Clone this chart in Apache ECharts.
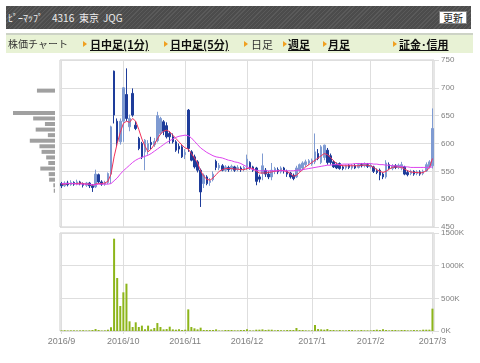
<!DOCTYPE html>
<html><head><meta charset="utf-8">
<script src="https://cdn.jsdelivr.net/npm/echarts@6/dist/echarts.min.js"></script>
<style>
html,body{margin:0;padding:0;background:#fff;width:480px;height:363px;overflow:hidden;font-family:"Noto Sans CJK JP",sans-serif;}
#chart{position:absolute;left:0;top:0;width:480px;height:363px;}
#hdr{position:absolute;left:6px;top:6px;width:465px;height:23px;background:repeating-linear-gradient(135deg,#5a5a5a 0,#5a5a5a 1px,#4c4c4c 1px,#4c4c4c 3px);color:#eee;font-size:10px;line-height:23px;}
#hdr span{position:absolute;top:0;white-space:nowrap;}
#btn{position:absolute;left:433px;top:5px;width:26px;height:11px;background:#fff;border:1px solid #888;color:#222;font-size:10px;line-height:11px;text-align:center;}
#tabs{position:absolute;left:6px;top:33px;width:467px;height:18px;background:#e8f2d5;border-top:2px solid #cdd3c6;}
.it{position:absolute;top:0;line-height:18px;font-size:11px;color:#333;white-space:nowrap;}
.b{font-weight:bold;text-decoration:underline;color:#111;}
.tri{position:absolute;top:6px;width:0;height:0;border-top:3px solid transparent;border-bottom:3px solid transparent;border-left:4px solid #f0a020;}
</style></head>
<body>
<div id="chart"></div>
<div id="hdr"><span style="left:2px">ﾋﾟｰﾏｯﾌﾟ</span><span style="left:46px">4316</span><span style="left:73px">東京</span><span style="left:97px">JQG</span><div id="btn">更新</div></div>
<div id="tabs">
<span class="it" style="left:2px;font-size:10px">株価チャート</span>
<i class="tri" style="left:77px"></i><span class="it b" style="left:84px">日中足(1分)</span>
<i class="tri" style="left:158px"></i><span class="it b" style="left:164px">日中足(5分)</span>
<i class="tri" style="left:238px"></i><span class="it" style="left:245px">日足</span>
<i class="tri" style="left:277px"></i><span class="it b" style="left:282px">週足</span>
<i class="tri" style="left:317px"></i><span class="it b" style="left:322px">月足</span>
<i class="tri" style="left:387px"></i><span class="it b" style="left:393px">証金･信用</span>
</div>
<script>
// trading days per month
const sepDays=[1,2,5,6,7,8,9,12,13,14,15,16,20,21,23,26,27,28,29,30];
const octDays=[3,4,5,6,7,11,12,13,14,17,18,19,20,21,24,25,26,27,28,31];
const novDays=[1,2,4,7,8,9,10,11,14,15,16,17,18,21,22,24,25,28,29,30];
const decDays=[1,2,5,6,7,8,9,12,13,14,15,16,19,20,21,22,26,27,28,29,30];
const janDays=[4,5,6,10,11,12,13,16,17,18,19,20,23,24,25,26,27,30,31];
const febDays=[1,2,3,6,7,8,9,10,13,14,15,16,17,20,21,22,23,24,27,28];
const marDays=[1];
const monthKeys=['2016/9','2016/10','2016/11','2016/12','2017/1','2017/2','2017/3'];

const opens=[528,524,529,526,530,527,531,528,525,529, 524,522,544,531,527,530,545,730,640,603,
 640,688,630,690,633,609,600,585,588,602, 598,605,618,639,632,618,612,603,595,594,
 580,660,585,576,567,552,528,540,530,535, 568,556,560,552,557,554,558,553,556,553,
 558,566,558,556,540,546,552,545,540,550, 553,549,556,550,547,543,540,552,556,562,
 565,563,567,582,566,575,588,578,567,563, 564,558,556,561,556,560,557,562,560,562,
 558,558,551,552,545,540,562,555,560,557, 556,558,548,546,550,546,549,546,551,558, 560];
const closes=[524,529,526,530,527,531,528,525,529,524, 521,545,531,527,530,546,630,651,603,640,
 700,645,645,651,627,591,576,606,600,598, 604,650,645,622,612,612,603,588,590,576,
 584,591,570,558,552,513,543,528,533,545, 557,561,552,558,553,559,552,557,553,557,
 572,556,552,532,536,560,545,540,552,555, 549,556,552,545,540,537,556,562,565,567,
 569,570,585,573,594,597,566,566,558,556, 555,555,560,557,560,556,562,560,563,559,
 561,550,548,543,540,565,555,560,557,561, 562,545,544,550,545,549,545,550,562,567, 627];
const lows=[520,522,523,524,524,525,525,521,522,520, 513,520,528,524,524,527,528,636,594,598,
 603,640,622,648,624,588,572,552,580,590, 594,602,615,615,609,600,600,585,582,574,
 572,585,568,555,548,486,520,525,524,532, 552,552,550,549,549,550,549,550,549,550,
 552,553,549,525,530,534,540,536,534,545, 545,546,546,540,537,534,538,549,552,558,
 561,560,563,570,563,570,562,562,556,554, 553,552,553,554,553,554,555,557,557,556,
 555,547,545,534,536,537,552,552,554,554, 552,543,541,543,542,543,542,543,549,555, 555];
const highs=[531,532,533,534,532,535,533,530,531,531, 527,553,546,534,533,548,632,731,645,645,
 701,735,652,699,640,612,603,608,606,612, 610,657,648,642,638,622,618,606,600,597,
 590,662,588,580,570,555,546,543,538,550, 571,565,563,561,560,562,560,561,559,560,
 580,568,560,558,544,582,556,550,565,558, 557,559,558,553,549,546,560,564,568,571,
 572,573,618,590,597,598,592,582,570,566, 566,561,562,563,563,563,565,565,566,565,
 564,560,555,555,548,570,566,563,563,564, 567,560,552,553,552,552,552,553,566,570, 663];
// volume, thousand shares
const volumes=[10,12,8,10,10,8,10,12,8,10, 15,30,15,8,10,20,56,1413,811,383,
 592,724,148,61,133,61,82,25,82,25, 46,122,61,25,30,66,25,20,25,15,
 20,331,61,41,25,51,15,15,15,15, 25,8,8,15,15,15,10,10,15,15,
 25,10,8,20,20,25,15,20,20,10, 15,10,10,15,15,15,46,15,15,10,
 8,10,92,30,25,20,30,15,15,10, 15,10,10,15,15,10,10,15,10,10,
 10,15,20,15,25,15,10,15,15,10, 15,15,10,10,15,10,10,20,20,20, 342];
// moving averages
const ma5=[527,527,528,528,528,528,529,528,527,527, 525,527,528,528,529,532,545,576,600,620,
 636,640,638,645,640,625,608,595,585,590, 598,608,617,622,624,621,615,609,603,597,
 592,590,582,574,565,551,541,536,534,538, 544,550,553,555,555,555,554,554,553,553,
 555,556,555,550,547,547,547,548,549,550, 551,552,551,549,546,541,543,548,553,558,
 562,566,570,574,578,582,580,575,569,564, 561,560,560,560,560,560,560,561,561,561,
 560,557,553,550,548,550,554,557,558,558, 557,554,551,549,548,548,547,548,551,556, 573];
const ma25=[528,528,528,528,528,527,527,527,527,527, 526,526,527,527,527,527,528,533,538,545,
 551,556,561,566,570,573,575,577,579,582, 586,590,594,598,602,605,608,611,613,614,
 615,614,610,604,598,592,588,584,581,578, 576,575,574,572,570,569,567,566,564,561,
 558,555,553,552,551,551,551,551,551,551, 551,551,551,551,551,551,552,552,553,554,
 555,556,557,558,559,560,561,561,562,562, 562,563,563,563,563,564,564,564,564,564,
 564,563,563,562,562,561,561,560,560,559, 559,558,558,557,557,557,557,557,557,557, 558];
// volume by price (10-yen bins, relative)
const priceBins=[450,460,470,480,490,500,510,520,530,540,550,560,570,580,590,600,610,620,630,640,650,660,670,680,690,700,710,720,730,740];
const binVolume=[0,0,0,0,0,0,3,4,14,15,35,16,21,32,37,60,17,46,24,52,100,0,0,0,43,0,0,0,0,0];
const priceTicks=[450,500,550,600,650,700,750];
const volumeTicks=[0,500,1000,1500];

const dates=[];
[sepDays,octDays,novDays,decDays,janDays,febDays,marDays].forEach((ds,k)=>ds.forEach(d=>dates.push(monthKeys[k]+'/'+d)));
const mon=s=>s.split('/').slice(0,2).join('/');
const isMonthStart=i=>i===0||mon(dates[i])!==mon(dates[i-1]);
const candle=dates.map((d,i)=>[opens[i],closes[i],lows[i],highs[i]]);
const grid='#dedede';
const chart=echarts.init(document.getElementById('chart'));
chart.setOption({
  animation:false,
  grid:[
    {left:60,right:46,top:60,height:167,show:true,borderColor:'#cccccc',borderWidth:1},
    {left:60,right:46,top:233,height:98,show:true,borderColor:'#cccccc',borderWidth:1},
    {left:13,width:42,top:60,height:167}
  ],
  xAxis:[
    {type:'category',gridIndex:0,data:dates,boundaryGap:true,axisLine:{show:false},axisTick:{show:false},axisLabel:{show:false},
     splitLine:{show:true,interval:i=>isMonthStart(i),alignWithLabel:true,lineStyle:{color:grid,width:1}}},
    {type:'category',gridIndex:1,data:dates,boundaryGap:true,axisLine:{show:false},
     axisTick:{show:true,interval:i=>isMonthStart(i),alignWithLabel:true,length:3,lineStyle:{color:grid}},
     axisLabel:{interval:i=>isMonthStart(i),formatter:v=>mon(v),fontSize:9,color:'#808080',margin:6,fontFamily:'Liberation Sans'},
     splitLine:{show:true,interval:i=>isMonthStart(i),alignWithLabel:true,lineStyle:{color:grid,width:1}}},
    {type:'value',gridIndex:2,inverse:true,min:0,max:100,show:false}
  ],
  yAxis:[
    {type:'value',gridIndex:0,position:'right',min:priceTicks[0],max:priceTicks[priceTicks.length-1],interval:50,
     axisLine:{show:false},axisTick:{show:true,length:5,lineStyle:{color:grid}},
     axisLabel:{fontSize:8,color:'#808080',margin:7,fontFamily:'Liberation Sans'},splitLine:{lineStyle:{color:grid}}},
    {type:'value',gridIndex:1,position:'right',min:volumeTicks[0],max:volumeTicks[volumeTicks.length-1],interval:500,
     axisLine:{show:false},axisTick:{show:true,length:5,lineStyle:{color:grid}},
     axisLabel:{fontSize:8,color:'#808080',margin:7,fontFamily:'Liberation Sans',formatter:v=>v+'K'},splitLine:{lineStyle:{color:grid}}},
    {type:'category',gridIndex:2,data:priceBins,show:false}
  ],
  series:[
    {type:'candlestick',xAxisIndex:0,yAxisIndex:0,data:candle,barWidth:2,
     itemStyle:{color:'#7f9bd2',color0:'#1e3c9a',borderColor:'#7f9bd2',borderColor0:'#1e3c9a',borderWidth:1}},
    {type:'line',xAxisIndex:0,yAxisIndex:0,data:ma5,symbol:'none',lineStyle:{color:'#f0305a',width:1}},
    {type:'line',xAxisIndex:0,yAxisIndex:0,data:ma25,symbol:'none',lineStyle:{color:'#dd44ee',width:1}},
    {type:'bar',xAxisIndex:1,yAxisIndex:1,data:volumes,barWidth:2,itemStyle:{color:'#8db51a'}},
    {type:'bar',xAxisIndex:2,yAxisIndex:2,data:binVolume,barWidth:4,itemStyle:{color:'#a0a0a0'}}
  ]
});
</script>
</body></html>
